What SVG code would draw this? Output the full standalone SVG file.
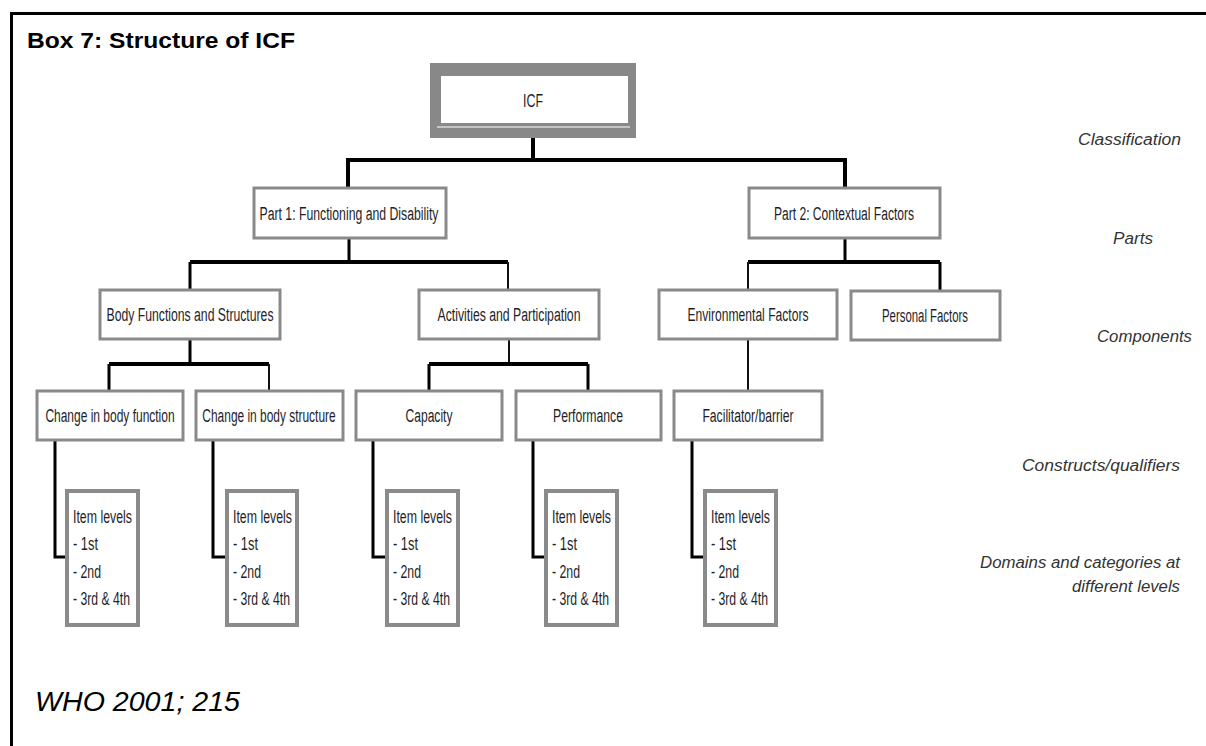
<svg xmlns="http://www.w3.org/2000/svg" width="1206" height="746" viewBox="0 0 1206 746">
<style>
.frame{fill:none;stroke:#000;stroke-width:3}
.title{font-family:"Liberation Sans",Arial,sans-serif;font-weight:bold;font-size:22px;fill:#000}
.cite{font-family:"Liberation Sans",Arial,sans-serif;font-style:italic;font-size:28px;fill:#000}
.box{fill:#fff;stroke:#8a8a8a;stroke-width:3}
.ibox{fill:#fff;stroke:#8a8a8a;stroke-width:4}
.t{font-family:"Liberation Sans",Arial,sans-serif;font-size:18px;fill:#1e1e2a;text-anchor:middle}
.it{font-family:"Liberation Sans",Arial,sans-serif;font-size:18px;fill:#1e1e2a}
.lab{font-family:"Liberation Sans",Arial,sans-serif;font-style:italic;font-size:16px;fill:#333;text-anchor:end}
.thick{fill:none;stroke:#000;stroke-width:4}
.mid{fill:none;stroke:#000;stroke-width:3}
.thin{fill:none;stroke:#111;stroke-width:2}
</style>
<rect width="1206" height="746" fill="#fff"/>
<rect class="frame" x="11.5" y="13.5" width="1220" height="760"/>
<text class="title" x="27" y="48" textLength="268" lengthAdjust="spacingAndGlyphs">Box 7: Structure of ICF</text>
<text class="cite" x="35" y="711" textLength="205" lengthAdjust="spacingAndGlyphs">WHO 2001; 215</text>

<g id="connectors">
<path class="thick" d="M533 138V160M348 160H845M348 158V188M845 158V188"/>
<path class="mid" d="M349 238V262"/>
<path class="thick" d="M190 262H508"/>
<path class="mid" d="M190 262V290"/>
<path class="thin" d="M508 262V290"/>
<path class="mid" d="M845 238V262"/>
<path class="thick" d="M748 262H940"/>
<path class="thin" d="M748 262V290"/>
<path class="mid" d="M940 262V291"/>
<path class="mid" d="M190 339V364"/>
<path class="thick" d="M109 364H269"/>
<path class="mid" d="M109 364V391"/>
<path class="thin" d="M269 364V391"/>
<path class="thin" d="M509 339V364"/>
<path class="thick" d="M429 364H588"/>
<path class="mid" d="M429 364V391M588 364V391"/>
<path class="thin" d="M748 339V391"/>
<path class="mid" d="M55 440V557H67M213 440V557H227M373 440V557H387M533 440V557H546M692 440V557H705"/>
</g>

<g id="icf">
<rect x="430" y="63" width="206" height="75" fill="#888"/>
<rect x="441" y="76" width="187" height="47" fill="#fff"/>
<line x1="437" y1="127" x2="630" y2="127" stroke="#fff" stroke-width="1"/>
<text class="t" x="533" y="107" textLength="20" lengthAdjust="spacingAndGlyphs">ICF</text>
</g>

<g id="part1"><rect class="box" x="254" y="188" width="192" height="50"/><text class="t" x="349" y="220" textLength="179" lengthAdjust="spacingAndGlyphs">Part 1: Functioning and Disability</text></g>
<g id="part2"><rect class="box" x="749" y="188" width="191" height="50"/><text class="t" x="844" y="220" textLength="140" lengthAdjust="spacingAndGlyphs">Part 2: Contextual Factors</text></g>

<g id="bodyfs"><rect class="box" x="100" y="290" width="180" height="49"/><text class="t" x="190" y="321" textLength="167" lengthAdjust="spacingAndGlyphs">Body Functions and Structures</text></g>
<g id="actpart"><rect class="box" x="419" y="290" width="180" height="49"/><text class="t" x="509" y="321" textLength="143" lengthAdjust="spacingAndGlyphs">Activities and Participation</text></g>
<g id="envf"><rect class="box" x="659" y="290" width="178" height="49"/><text class="t" x="748" y="321" textLength="121" lengthAdjust="spacingAndGlyphs">Environmental Factors</text></g>
<g id="persf"><rect class="box" x="851" y="291" width="149" height="49"/><text class="t" x="925" y="322" textLength="86" lengthAdjust="spacingAndGlyphs">Personal Factors</text></g>

<g id="cbf"><rect class="box" x="37" y="391" width="146" height="49"/><text class="t" transform="translate(110 422) scale(0.68 1)" textLength="190" lengthAdjust="spacingAndGlyphs">Change in body function</text></g>
<g id="cbs"><rect class="box" x="196" y="391" width="147" height="49"/><text class="t" transform="translate(269 422) scale(0.68 1)" textLength="196" lengthAdjust="spacingAndGlyphs">Change in body structure</text></g>
<g id="capacity"><rect class="box" x="356" y="391" width="146" height="49"/><text class="t" transform="translate(429 422) scale(0.68 1)" textLength="69" lengthAdjust="spacingAndGlyphs">Capacity</text></g>
<g id="performance"><rect class="box" x="516" y="391" width="145" height="49"/><text class="t" transform="translate(588 422) scale(0.68 1)" textLength="103" lengthAdjust="spacingAndGlyphs">Performance</text></g>
<g id="facil"><rect class="box" x="674" y="391" width="148" height="49"/><text class="t" transform="translate(748 422) scale(0.68 1)" textLength="134" lengthAdjust="spacingAndGlyphs">Facilitator/barrier</text></g>

<g id="items1"><rect class="ibox" x="67" y="491" width="71" height="134"/>
<text class="it" x="73" y="523" textLength="59" lengthAdjust="spacingAndGlyphs">Item levels</text>
<text class="it" x="73" y="550" textLength="25" lengthAdjust="spacingAndGlyphs">- 1st</text>
<text class="it" x="73" y="578" textLength="28" lengthAdjust="spacingAndGlyphs">- 2nd</text>
<text class="it" x="73" y="605" textLength="57" lengthAdjust="spacingAndGlyphs">- 3rd &amp; 4th</text></g>
<g id="items2"><rect class="ibox" x="227" y="491" width="70" height="134"/>
<text class="it" x="233" y="523" textLength="59" lengthAdjust="spacingAndGlyphs">Item levels</text>
<text class="it" x="233" y="550" textLength="25" lengthAdjust="spacingAndGlyphs">- 1st</text>
<text class="it" x="233" y="578" textLength="28" lengthAdjust="spacingAndGlyphs">- 2nd</text>
<text class="it" x="233" y="605" textLength="57" lengthAdjust="spacingAndGlyphs">- 3rd &amp; 4th</text></g>
<g id="items3"><rect class="ibox" x="387" y="491" width="71" height="134"/>
<text class="it" x="393" y="523" textLength="59" lengthAdjust="spacingAndGlyphs">Item levels</text>
<text class="it" x="393" y="550" textLength="25" lengthAdjust="spacingAndGlyphs">- 1st</text>
<text class="it" x="393" y="578" textLength="28" lengthAdjust="spacingAndGlyphs">- 2nd</text>
<text class="it" x="393" y="605" textLength="57" lengthAdjust="spacingAndGlyphs">- 3rd &amp; 4th</text></g>
<g id="items4"><rect class="ibox" x="546" y="491" width="71" height="134"/>
<text class="it" x="552" y="523" textLength="59" lengthAdjust="spacingAndGlyphs">Item levels</text>
<text class="it" x="552" y="550" textLength="25" lengthAdjust="spacingAndGlyphs">- 1st</text>
<text class="it" x="552" y="578" textLength="28" lengthAdjust="spacingAndGlyphs">- 2nd</text>
<text class="it" x="552" y="605" textLength="57" lengthAdjust="spacingAndGlyphs">- 3rd &amp; 4th</text></g>
<g id="items5"><rect class="ibox" x="705" y="491" width="71" height="134"/>
<text class="it" x="711" y="523" textLength="59" lengthAdjust="spacingAndGlyphs">Item levels</text>
<text class="it" x="711" y="550" textLength="25" lengthAdjust="spacingAndGlyphs">- 1st</text>
<text class="it" x="711" y="578" textLength="28" lengthAdjust="spacingAndGlyphs">- 2nd</text>
<text class="it" x="711" y="605" textLength="57" lengthAdjust="spacingAndGlyphs">- 3rd &amp; 4th</text></g>

<g id="levels">
<text class="lab" x="1181" y="145" textLength="103" lengthAdjust="spacingAndGlyphs">Classification</text>
<text class="lab" x="1153" y="244" textLength="40" lengthAdjust="spacingAndGlyphs">Parts</text>
<text class="lab" x="1192" y="342" textLength="95" lengthAdjust="spacingAndGlyphs">Components</text>
<text class="lab" x="1180" y="471" textLength="158" lengthAdjust="spacingAndGlyphs">Constructs/qualifiers</text>
<text class="lab" x="1180" y="568" textLength="200" lengthAdjust="spacingAndGlyphs">Domains and categories at</text>
<text class="lab" x="1180" y="592" textLength="108" lengthAdjust="spacingAndGlyphs">different levels</text>
</g>
</svg>
